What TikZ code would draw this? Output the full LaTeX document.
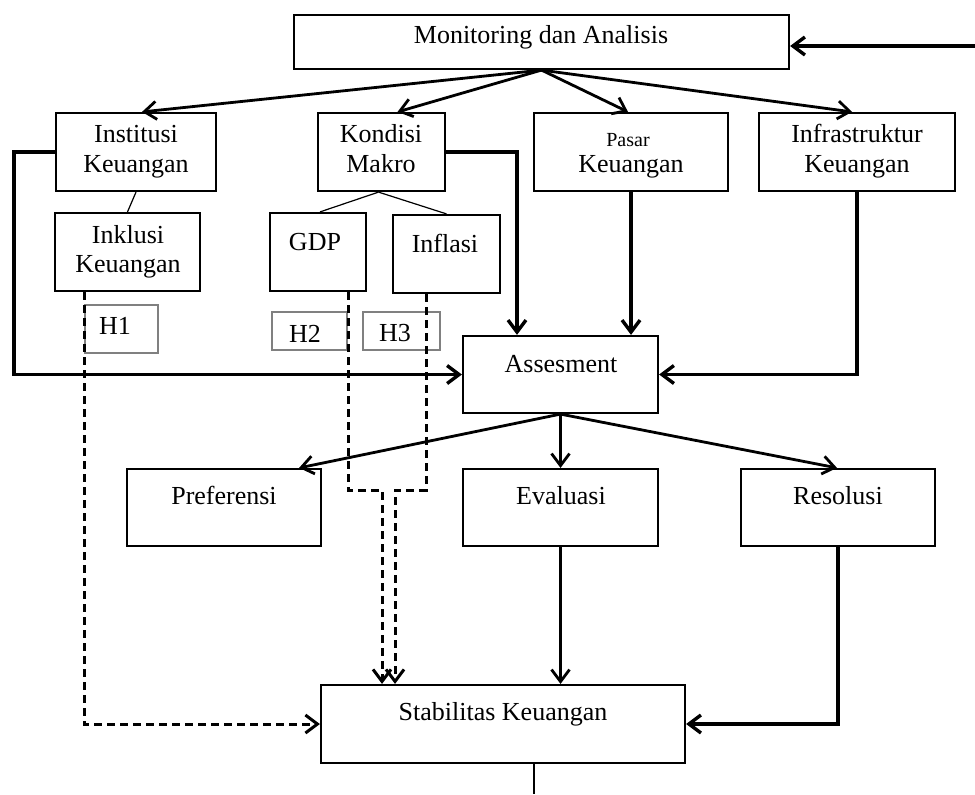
\documentclass[tikz,border=0pt]{standalone}
\usepackage{fontspec}
\setmainfont{Liberation Serif}
\usetikzlibrary{arrows.meta,fit,calc}
\begin{document}
\begin{tikzpicture}[x=0.5pt,y=-0.5pt,
  box/.style={draw, line width=1.1pt, inner sep=0pt, fit={#1}},
  hbox/.style={draw=gray, line width=0.6pt, inner sep=0pt, fit={#1}},
  txt/.style={font=\fontsize{13}{15}\selectfont, inner sep=0pt, anchor=base},
  smalltxt/.style={font=\fontsize{10}{12}\selectfont, inner sep=0pt, anchor=base},
  conn/.style={line width=1.4pt, -{Straight Barb[length=6pt,width=9pt]}},
  thickline/.style={line width=1.7pt, -{Straight Barb[length=6pt,width=9pt]}},
  dconn/.style={line width=1.5pt, dash pattern=on 4pt off 2.5pt, -{Straight Barb[length=6pt,width=9pt]}},
  thinl/.style={line width=0.6pt},
]
\useasboundingbox (0,0) rectangle (975,794);

% boxes
\node[box={(294,15) (789,69)}] (mon) {};
\node[box={(56,113) (216,191)}] (inst) {};
\node[box={(318,113) (445,191)}] (kon) {};
\node[box={(534,113) (728,191)}] (pas) {};
\node[box={(759,113) (955,191)}] (inf) {};
\node[box={(55,213) (200,291)}] (ink) {};
\node[box={(270,213) (366,291)}] (gdp) {};
\node[box={(393,215) (500,293)}] (infl) {};
\node[hbox={(85,305) (158,353)}] (h1) {};
\node[hbox={(272,312) (347,350)}] (h2) {};
\node[hbox={(363,312) (440,350)}] (h3) {};
\node[box={(463,336) (658,413)}] (ass) {};
\node[box={(127,469) (321,546)}] (pref) {};
\node[box={(463,469) (658,546)}] (eval) {};
\node[box={(741,469) (935,546)}] (res) {};
\node[box={(321,685) (685,763)}] (stab) {};

% texts
\node[txt] (monT) at (541,43) {Monitoring dan Analisis};
\node[txt] (instA) at (136,142) {Institusi};
\node[txt] (instB) at (136,172) {Keuangan};
\node[txt] (konA) at (381,142) {Kondisi};
\node[txt] (konB) at (381,172) {Makro};
\node[smalltxt] (pasA) at (628,146) {Pasar};
\node[txt] (pasB) at (631,172) {Keuangan};
\node[txt] (infA) at (857,142) {Infrastruktur};
\node[txt] (infB) at (857,172) {Keuangan};
\node[txt] (inkA) at (128,243) {Inklusi};
\node[txt] (inkB) at (128,272) {Keuangan};
\node[txt] (gdpT) at (315,250) {GDP};
\node[txt] (inflT) at (445,252) {Inflasi};
\node[txt] (h1T) at (115,334) {H1};
\node[txt] (h2T) at (305,342) {H2};
\node[txt] (h3T) at (395,341) {H3};
\node[txt] (assT) at (561,372) {Assesment};
\node[txt] (prefT) at (224,504) {Preferensi};
\node[txt] (evalT) at (561,504) {Evaluasi};
\node[txt] (resT) at (838,504) {Resolusi};
\node[txt] (stabT) at (503,720) {Stabilitas Keuangan};

% coordinates for free ends
\coordinate (rin) at (975,46);
\coordinate (bot) at (534,794);

% top connectors
\draw[thickline] (rin) -- (mon.east |- rin);
\draw[conn] (mon.south) -- ($(inst.north)+(6,0)$);
\draw[conn] (mon.south) -- ($(kon.north)+(16,0)$);
\draw[conn] (mon.south) -- ($(pas.north)+(-3,0)$);
\draw[conn] (mon.south) -- ($(inf.north)+(-5,0)$);

% thin sub links
\draw[thinl] (inst.south) -- (ink.north);
\draw[thinl] ($(kon.south)+(-3,0)$) -- ($(gdp.north)+(2,0)$);
\draw[thinl] ($(kon.south)+(-3,0)$) -- (infl.north);

% into assesment
\draw[thickline] (inst.west) -- (14,152) |- (ass.west);
\draw[thickline] (kon.east) -| ($(ass.north)+(-43.5,0)$);
\draw[thickline] (pas.south) -- (pas.south |- ass.north);
\draw[thickline] (inf.south) |- (ass.east);

% from assesment
\draw[conn] (ass.south) -- (eval.north);
\draw[conn] (ass.south) -- ($(pref.north east)+(-23,0)$);
\draw[conn] (ass.south) -- ($(res.north)+(-1,0)$);

% into stabilitas
\draw[conn] (eval.south) -- (eval.south |- stab.north);
\draw[thickline] (res.south) |- (stab.east);
\draw[dconn] ($(ink.south)+(-43.5,0)$) |- (stab.west);
\draw[dconn] ($(gdp.south)+(30,0)$) -- (348,490) -- (382,490) -- ($(stab.north)+(-121,0)$);
\draw[dconn] ($(infl.south)+(-20.5,0)$) -- (426,490) -- (395,490) -- ($(stab.north)+(-108,0)$);

% bottom line
\draw[line width=0.8pt] ($(stab.south)+(31,0)$) -- (bot);
\end{tikzpicture}
\end{document}
